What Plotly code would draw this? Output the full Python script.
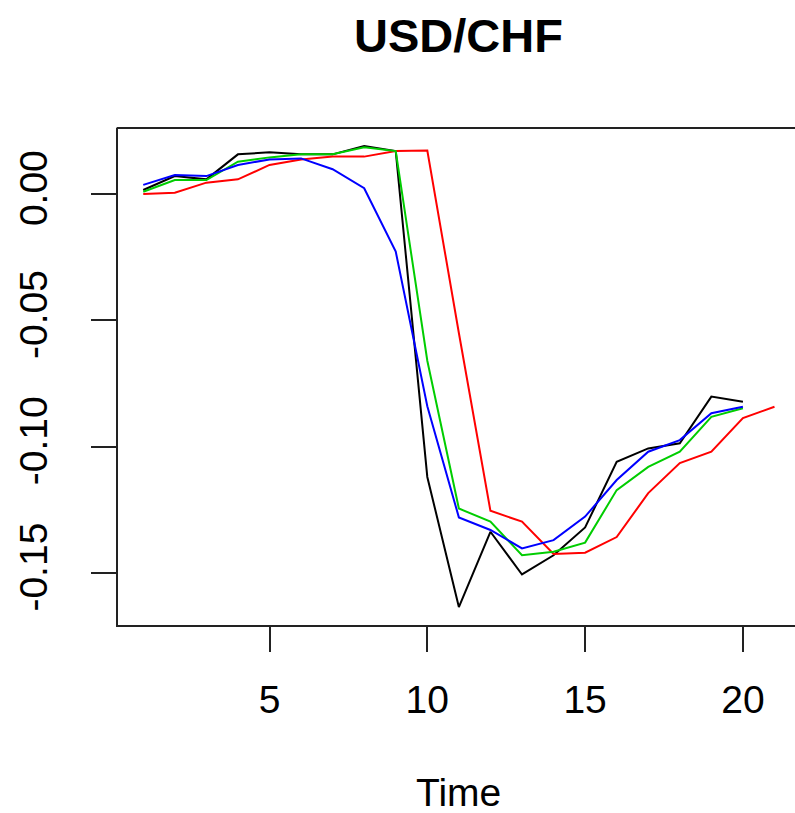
import plotly.graph_objects as go

# Time index and the four series
time = list(range(1, 22))
black = [0.0016, 0.0071, 0.0058, 0.0157, 0.0165, 0.0157, 0.0157, 0.0190, 0.0170, -0.1120,
         -0.1635, -0.1337, -0.1506, -0.1430, -0.1320, -0.1060, -0.1007, -0.0987, -0.0802, -0.0822]
red = [0.0000, 0.0005, 0.0045, 0.0058, 0.0115, 0.0137, 0.0148, 0.0148, 0.0170, 0.0172,
       -0.0550, -0.1254, -0.1297, -0.1425, -0.1420, -0.1358, -0.1184, -0.1065, -0.1020, -0.0887, -0.0842]
green = [0.0009, 0.0055, 0.0055, 0.0128, 0.0145, 0.0157, 0.0157, 0.0185, 0.0170, -0.0660,
         -0.1245, -0.1297, -0.1430, -0.1416, -0.1380, -0.1172, -0.1080, -0.1020, -0.0882, -0.0848]
blue = [0.0036, 0.0075, 0.0071, 0.0115, 0.0137, 0.0141, 0.0098, 0.0023, -0.0228, -0.0840,
        -0.1280, -0.1330, -0.1403, -0.1370, -0.1277, -0.1132, -0.1020, -0.0974, -0.0868, -0.0842]

x_ticks = [5, 10, 15, 20]
y_ticks = [0.0, -0.05, -0.10, -0.15]
y_tick_labels = ["0.00", "-0.05", "-0.10", "-0.15"]

FONT = "Liberation Sans, Arial, sans-serif"

fig = go.Figure()
for ys, col in [(black, "#000000"), (red, "#FF0000"), (green, "#00CD00"), (blue, "#0000FF")]:
    fig.add_trace(go.Scatter(x=time[:len(ys)], y=ys, mode="lines",
                             line=dict(color=col, width=2), showlegend=False,
                             hoverinfo="skip"))

fig.update_layout(
    width=795, height=813,
    margin=dict(l=118, r=0, t=128, b=188),
    paper_bgcolor="white", plot_bgcolor="white",
    font=dict(family=FONT, color="#000000"),
    xaxis=dict(range=[0.2, 21.65], tickvals=x_ticks, ticks="outside", ticklen=25,
               tickwidth=2, tickcolor="#222", showgrid=False, zeroline=False,
               showline=True, linecolor="#222", linewidth=2,
               tickfont=dict(size=39, family=FONT), ticklabelstandoff=14),
    yaxis=dict(range=[-0.1706, 0.02613], tickvals=y_ticks, ticktext=y_tick_labels,
               ticks="outside", ticklen=25, tickwidth=2, tickcolor="#222",
               showgrid=False, zeroline=False, showline=True, linecolor="#222",
               linewidth=2, tickangle=-90, tickfont=dict(size=39, family=FONT),
               ticklabelstandoff=28),
    shapes=[dict(type="line", xref="paper", yref="paper", x0=-0.002, x1=1, y0=1, y1=1,
                 line=dict(color="#222", width=2))],
    annotations=[
        dict(text="<b>USD/CHF</b>", xref="x", yref="paper", x=11, y=1.187,
             xanchor="center", yanchor="middle", showarrow=False,
             font=dict(size=47, family=FONT, color="#000")),
        dict(text="Time", xref="x", yref="paper", x=11, y=-0.338,
             xanchor="center", yanchor="middle", showarrow=False,
             font=dict(size=39, family=FONT, color="#000")),
    ],
)

fig.write_html("out.html")
